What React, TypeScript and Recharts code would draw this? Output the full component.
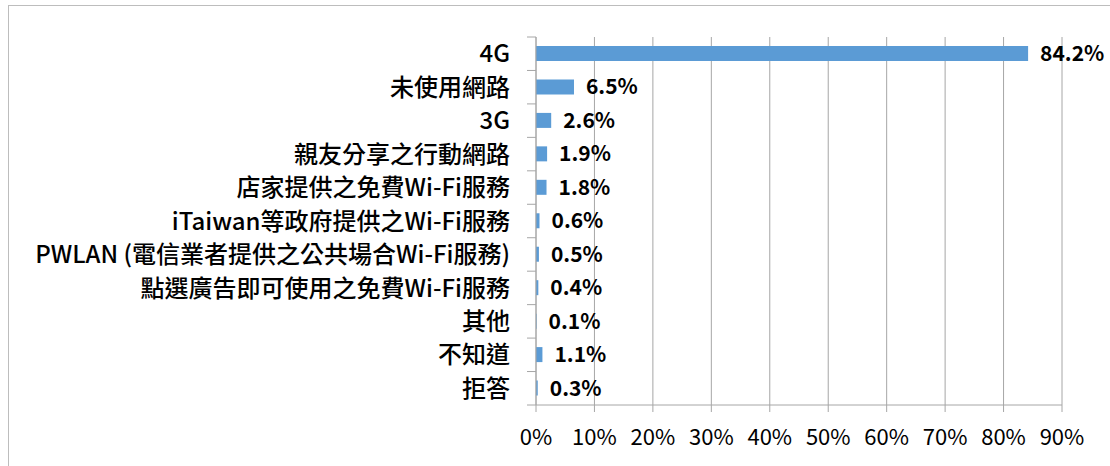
import React from 'react'
import { BarChart, Bar, XAxis, YAxis, CartesianGrid, LabelList } from 'recharts'

const categories = [
  '4G',
  '未使用網路',
  '3G',
  '親友分享之行動網路',
  '店家提供之免費Wi-Fi服務',
  'iTaiwan等政府提供之Wi-Fi服務',
  'PWLAN (電信業者提供之公共場合Wi-Fi服務)',
  '點選廣告即可使用之免費Wi-Fi服務',
  '其他',
  '不知道',
  '拒答',
]
const shares = [84.2, 6.5, 2.6, 1.9, 1.8, 0.6, 0.5, 0.4, 0.1, 1.1, 0.3]
const xTicks = [0, 10, 20, 30, 40, 50, 60, 70, 80, 90]

const data = categories.map((name, i) => ({ name, value: shares[i] }))

const FONT = '"Noto Sans CJK TC", "Noto Sans", sans-serif'
const GRID = '#A6A6A6'
const TOP = 37
const BOTTOM_AXIS = 61
const HEIGHT = 466
const BAND = (HEIGHT - TOP - BOTTOM_AXIS) / categories.length

function CategoryTick(props: any) {
  const { x, y, payload, index } = props
  const axisX = x + 26
  const last = index === categories.length - 1
  return (
    <g>
      <line x1={axisX - 9} x2={axisX} y1={y - BAND / 2} y2={y - BAND / 2} stroke={GRID} />
      {last && <line x1={axisX - 9} x2={axisX} y1={y + BAND / 2} y2={y + BAND / 2} stroke={GRID} />}
      <text x={x} y={y} dy="0.36em" textAnchor="end" fontSize={24} fontWeight={500} fill="#000" fontFamily={FONT}>
        {payload.value}
      </text>
    </g>
  )
}

export default function App() {
  return (
    <div style={{ position: 'absolute', left: 0, top: 0, width: 1110, height: 466, background: '#fff', overflow: 'hidden' }}>
      <div
        style={{
          position: 'absolute',
          left: 8,
          top: 5,
          right: -10,
          bottom: -10,
          borderTop: '1.5px solid #BDBDBD',
          borderLeft: '1.5px solid #BDBDBD',
        }}
      />
      <BarChart
        width={1110}
        height={HEIGHT}
        data={data}
        layout="vertical"
        margin={{ top: TOP, right: 48, bottom: 0, left: 0 }}
        barSize={15}
        style={{ position: 'absolute', left: 0, top: 0, fontFamily: FONT }}
      >
        <CartesianGrid horizontal={false} stroke={GRID} />
        <XAxis
          type="number"
          domain={[0, 90]}
          ticks={xTicks}
          tickFormatter={(v: number) => `${v}%`}
          height={BOTTOM_AXIS}
          tickSize={7}
          tickMargin={17}
          stroke={GRID}
          tick={{ fill: '#000', fontSize: 22, fontFamily: FONT }}
          interval={0}
        />
        <YAxis
          type="category"
          dataKey="name"
          width={536}
          tickSize={9}
          tickMargin={17}
          tickLine={false}
          stroke={GRID}
          tick={<CategoryTick />}
          interval={0}
        />
        <Bar dataKey="value" fill="#5B9BD5" isAnimationActive={false}>
          <LabelList
            dataKey="value"
            position="right"
            offset={12}
            formatter={(v: any) => `${v}%`}
            style={{ fill: '#000', fontSize: 21, fontWeight: 700, fontFamily: FONT }}
          />
        </Bar>
      </BarChart>
    </div>
  )
}
